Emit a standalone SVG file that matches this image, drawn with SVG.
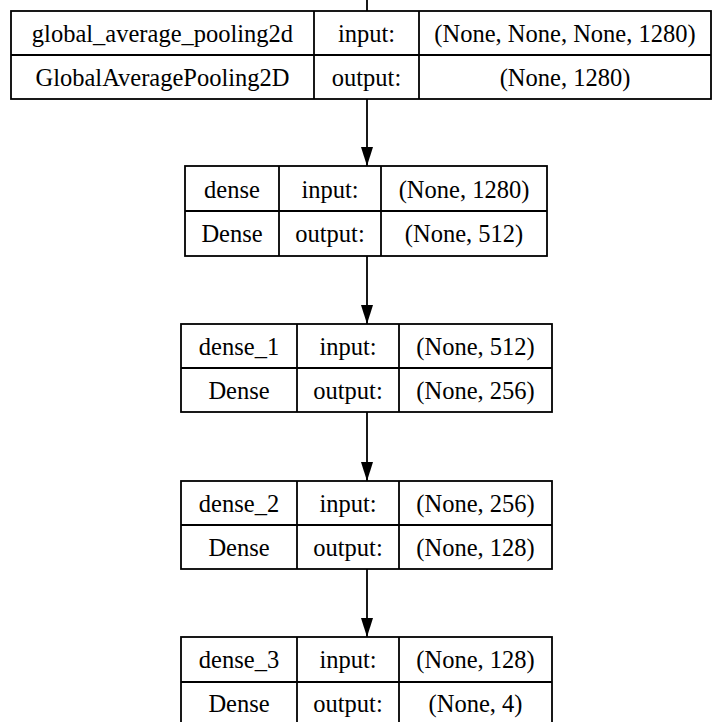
<svg xmlns="http://www.w3.org/2000/svg" width="712" height="722" viewBox="0 0 712 722">
<defs>
<style>
.b{fill:none;stroke:#000;stroke-width:1.8}
.l{stroke:#000;stroke-width:1.8}
.t{font-family:"Liberation Serif","Times New Roman",serif;font-size:24.5px;fill:#000;text-anchor:middle}
.e{stroke:#000;stroke-width:1.8;fill:none}
</style>
<marker id="ah" markerWidth="19" markerHeight="12" refX="19" refY="6" orient="auto" markerUnits="userSpaceOnUse" viewBox="0 0 19 12">
<path d="M0,0 L19,6 L0,12 Z" fill="#000"/>
</marker>
</defs>
<rect width="712" height="722" fill="#fff"/>
<g id="connectors">
<line class="e" x1="367" y1="0" x2="367" y2="11"/>
<line class="e" x1="367" y1="99" x2="367" y2="166" marker-end="url(#ah)"/>
<line class="e" x1="367" y1="256" x2="367" y2="324" marker-end="url(#ah)"/>
<line class="e" x1="367" y1="412" x2="367" y2="481" marker-end="url(#ah)"/>
<line class="e" x1="367" y1="569" x2="367" y2="637" marker-end="url(#ah)"/>
</g>
<g id="global_average_pooling2d">
<rect class="b" x="11" y="11" width="700" height="88"/>
<line class="l" x1="11" y1="55" x2="711" y2="55"/>
<line class="l" x1="314" y1="11" x2="314" y2="99"/>
<line class="l" x1="419" y1="11" x2="419" y2="99"/>
<text class="t" x="162.5" y="42">global_average_pooling2d</text>
<text class="t" x="162.5" y="85.5">GlobalAveragePooling2D</text>
<text class="t" x="366.5" y="42">input:</text>
<text class="t" x="366.5" y="85.5">output:</text>
<text class="t" x="565" y="42">(None, None, None, 1280)</text>
<text class="t" x="565" y="85.5">(None, 1280)</text>
</g>
<g id="dense">
<rect class="b" x="185" y="166" width="362" height="90"/>
<line class="l" x1="185" y1="211" x2="547" y2="211"/>
<line class="l" x1="279" y1="166" x2="279" y2="256"/>
<line class="l" x1="381" y1="166" x2="381" y2="256"/>
<text class="t" x="232" y="197.5">dense</text>
<text class="t" x="232" y="242">Dense</text>
<text class="t" x="330" y="197.5">input:</text>
<text class="t" x="330" y="242">output:</text>
<text class="t" x="464" y="197.5">(None, 1280)</text>
<text class="t" x="464" y="242">(None, 512)</text>
</g>
<g id="dense_1">
<rect class="b" x="181" y="324" width="371" height="88"/>
<line class="l" x1="181" y1="368" x2="552" y2="368"/>
<line class="l" x1="297" y1="324" x2="297" y2="412"/>
<line class="l" x1="399" y1="324" x2="399" y2="412"/>
<text class="t" x="239" y="354.5">dense_1</text>
<text class="t" x="239" y="398.5">Dense</text>
<text class="t" x="348" y="354.5">input:</text>
<text class="t" x="348" y="398.5">output:</text>
<text class="t" x="475.5" y="354.5">(None, 512)</text>
<text class="t" x="475.5" y="398.5">(None, 256)</text>
</g>
<g id="dense_2">
<rect class="b" x="181" y="481" width="371" height="88"/>
<line class="l" x1="181" y1="525" x2="552" y2="525"/>
<line class="l" x1="297" y1="481" x2="297" y2="569"/>
<line class="l" x1="399" y1="481" x2="399" y2="569"/>
<text class="t" x="239" y="511.5">dense_2</text>
<text class="t" x="239" y="555.5">Dense</text>
<text class="t" x="348" y="511.5">input:</text>
<text class="t" x="348" y="555.5">output:</text>
<text class="t" x="475.5" y="511.5">(None, 256)</text>
<text class="t" x="475.5" y="555.5">(None, 128)</text>
</g>
<g id="dense_3">
<rect class="b" x="181" y="637" width="371" height="88"/>
<line class="l" x1="181" y1="682" x2="552" y2="682"/>
<line class="l" x1="297" y1="637" x2="297" y2="725"/>
<line class="l" x1="399" y1="637" x2="399" y2="725"/>
<text class="t" x="239" y="668">dense_3</text>
<text class="t" x="239" y="712">Dense</text>
<text class="t" x="348" y="668">input:</text>
<text class="t" x="348" y="712">output:</text>
<text class="t" x="475.5" y="668">(None, 128)</text>
<text class="t" x="475.5" y="712">(None, 4)</text>
</g>
</svg>
